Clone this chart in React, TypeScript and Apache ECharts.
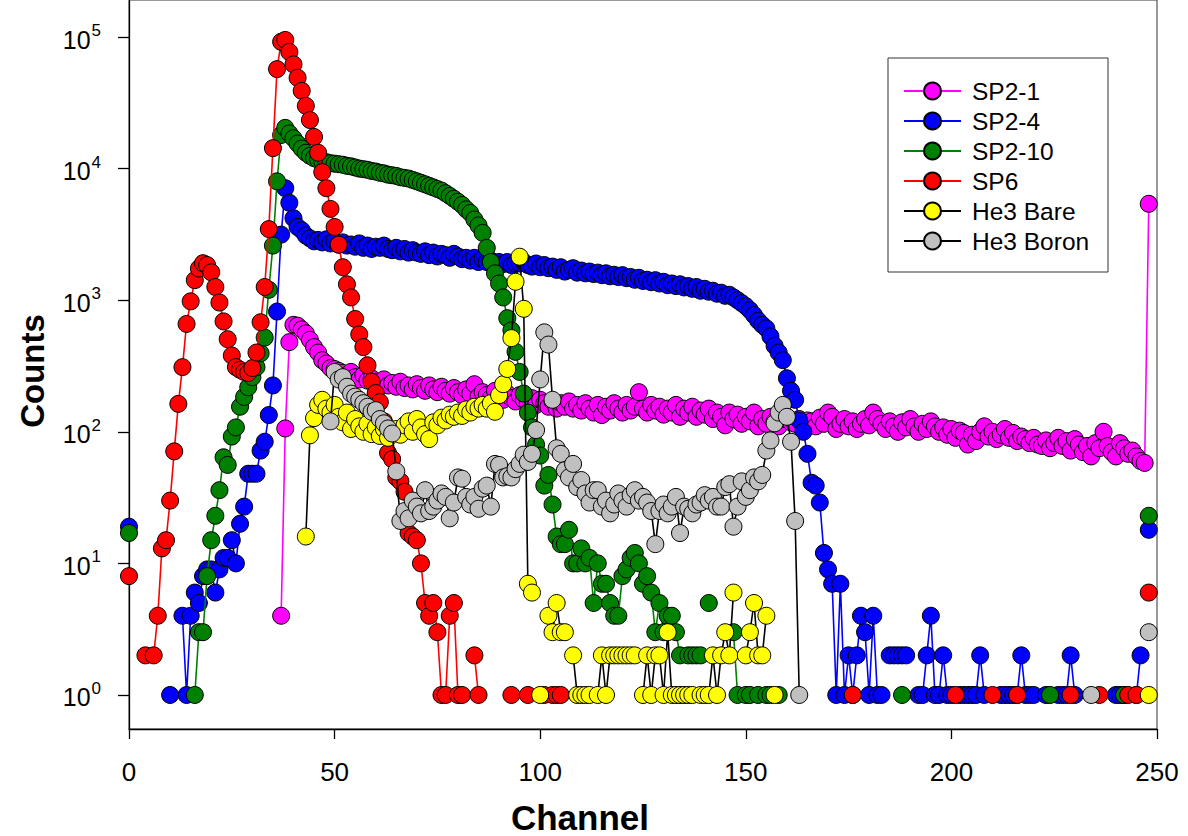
import React, { useEffect, useRef } from 'react';
import * as echarts from 'echarts';

const N = null;

const seriesNames = ['SP2-1', 'SP2-4', 'SP2-10', 'SP6', 'He3 Bare', 'He3 Boron'];
const markerColors = ['#FF00FF', '#0000FF', '#008000', '#FF0000', '#FFFF00', '#C0C0C0'];
const lineColors = ['#FF00FF', '#0000FF', '#008000', '#FF0000', '#000000', '#000000'];

const xTicks = [0, 50, 100, 150, 200, 250];
const yTicks = [1, 10, 100, 1000, 10000, 100000];

// counts per channel (index = channel 0..248); null = no counts
const sp2_1 = [
  N, N, N, N, N, N, N, N, N, N,
  N, N, N, N, N, N, N, N, N, N,
  N, N, N, N, N, N, N, N, N, N,
  N, N, N, N, N, N, N, 4, 106, 480,
  650, 640, 600, 560, 500, 440, 400, 350, 330, 305,
  300, 290, 280, 270, 285, 260, 250, 270, 245, 255,
  240, 230, 250, 225, 235, 220, 240, 215, 225, 210,
  230, 215, 205, 225, 210, 200, 220, 205, 195, 215,
  200, 190, 210, 195, 230, 185, 200, 190, 180, 205,
  185, 175, 195, 180, 170, 190, 175, 165, 180, 160,
  175, 165, 155, 170, 150, 165, 155, 170, 150, 160,
  145, 165, 150, 140, 160, 134, 155, 145, 165, 150,
  140, 160, 145, 155, 200, 150, 140, 160, 145, 155,
  135, 150, 140, 160, 130, 150, 140, 155, 130, 145,
  135, 150, 125, 140, 130, 112, 140, 125, 135, 115,
  130, 120, 140, 110, 125, 115, 130, 120, 110, 125,
  130, 118, 115, 125, 110, 122, 120, 110, 128, 115,
  140, 130, 105, 115, 125, 110, 120, 105, 115, 125,
  112, 140, 125, 115, 105, 120, 110, 100, 118, 108,
  125, 110, 100, 115, 105, 120, 110, 100, 108, 95,
  105, 90, 102, 98, 80, 95, 85, 100, 110, 92,
  100, 88, 95, 105, 90, 98, 85, 92, 88, 82,
  90, 80, 78, 86, 75, 82, 90, 78, 85, 72,
  88, 80, 70, 78, 65, 82, 75, 100, 78, 70,
  65, 82, 75, 68, 72, 65, 60, 58, 5400,
];

const sp2_4 = [
  19, N, N, N, N, N, N, N, N, N,
  1, N, N, 4, 1, 4, 6, 5, 8, 9,
  9, 6, 9, 11, 11, 15, 10, 20, 27, 48,
  48, 48, 72, 84, 134, 225, 820, 3150, 7100, 5500,
  4200, 3600, 3400, 3100, 2950, 2800, 2870, 2750, 2900, 2700,
  2800, 2650, 2750, 2600, 2650, 2550, 2700, 2500, 2600, 2450,
  2550, 2500, 2600, 2450, 2400, 2500, 2350, 2450, 2300, 2400,
  2300, 2250, 2350, 2200, 2300, 2150, 2250, 2200, 2100, 2250,
  2150, 2050, 2100, 2000, 2100, 1950, 2050, 1950, 2000, 1900,
  1950, 1880, 1950, 1850, 1900, 1900, 1950, 1850, 1800, 1900,
  1780, 1850, 1750, 1800, 1700, 1780, 1650, 1700, 1750, 1620,
  1680, 1600, 1650, 1580, 1620, 1550, 1600, 1520, 1560, 1500,
  1550, 1470, 1500, 1430, 1480, 1400, 1430, 1370, 1420, 1340,
  1380, 1300, 1340, 1280, 1320, 1250, 1280, 1220, 1260, 1180,
  1220, 1160, 1180, 1120, 1140, 1080, 1100, 1050, 1000, 950,
  900, 840, 770, 700, 650, 610, 530, 450, 400, 350,
  255, 205, 175, 122, 100, 68, 41, 39, 29, 12,
  9, 7, 1, 7, 1, 2, 1, 2, 4, 3,
  1, 4, 1, 1, N, 2, 2, 2, 2, 2,
  N, N, 1, 1, 2, 4, 1, 1, 2, 1,
  1, N, 1, 1, 1, 1, 1, 2, 1, N,
  N, N, 1, 1, 1, 1, 1, 2, 1, 1,
  1, N, N, 1, N, N, 1, 1, 1, 2,
  1, N, N, N, N, N, N, N, N, N,
  1, 1, 1, N, N, 1, 2, N, 18,
];

const sp2_10 = [
  17, N, N, N, N, N, N, N, N, N,
  N, N, N, N, N, N, 1, 3, 3, 8,
  15, 23, 36, 64, 56, 92, 108, 155, 184, 218,
  260, 310, 395, 520, 1200, 2600, 8000, 18000, 20400, 18500,
  17000, 15500, 14200, 13200, 12500, 12000, 11700, 11400, 11200, 11000,
  10900, 10800, 10700, 10500, 10400, 10200, 10000, 9900, 9800, 9600,
  9500, 9300, 9200, 9000, 8900, 8800, 8600, 8500, 8400, 8200,
  8000, 7800, 7600, 7400, 7200, 7000, 6800, 6500, 6200, 5900,
  5600, 5300, 4900, 4600, 4100, 3700, 3250, 2500, 1950, 1600,
  1340, 1050, 730, 590, 405, 285, 195, 140, 108, 80,
  66, 39, 47, 28, 16, 14, 14, 18, 10, 10,
  13, 10, 11, 5, 10, 7, 7, 5, 4, 4,
  8, 9, 11, 12, 10, 7, 8, 6, 3, 5,
  3, 4, 4, 3, 2, N, 2, 2, 2, 2,
  N, 5, N, N, N, N, N, 3, 1, N,
  1, 1, N, 1, N, 1, 1, N, 1, N,
  N, N, N, N, N, N, N, N, N, N,
  N, N, N, N, N, N, N, N, N, N,
  N, N, N, N, N, N, N, N, 1, N,
  N, N, N, N, N, N, N, N, N, N,
  N, N, N, N, N, N, N, N, N, N,
  N, N, N, N, N, N, N, N, N, N,
  N, N, N, N, 1, N, N, N, N, N,
  N, N, N, N, N, N, N, N, N, N,
  N, N, 1, N, N, N, N, N, 23,
];

const sp6 = [
  8, N, N, N, 2, N, 2, 4, 13, 15,
  30, 71, 163, 310, 660, 980, 1420, 1740, 1910, 1850,
  1630, 1260, 960, 690, 505, 380, 310, 296, 285, 280,
  305, 400, 680, 1260, 3470, 14300, 57000, 92000, 95000, 77000,
  62000, 49000, 39000, 30000, 23400, 17400, 13200, 9400, 7100, 4940,
  3600, 2640, 1780, 1320, 1050, 720, 550, 440, 320, 240,
  197, 168, 120, 69, 62, 45, 42, 35, 17, 16,
  15, 10, 5, 4, 5, 3, 1, 1, 4, 5,
  1, 1, N, N, 2, 1, N, N, N, N,
  N, N, N, 1, N, N, N, 1, N, N,
  N, 1, N, 1, 1, 1, N, N, N, N,
  N, N, N, N, N, N, N, N, N, N,
  N, N, N, N, N, N, N, N, N, N,
  N, N, N, N, N, N, N, N, N, N,
  N, N, N, N, N, N, N, N, N, N,
  N, N, N, N, N, N, N, N, N, N,
  N, N, N, N, N, N, N, N, N, N,
  N, N, N, N, N, N, 1, N, N, N,
  N, N, N, N, N, N, N, N, N, N,
  N, N, N, N, N, N, N, N, N, N,
  N, 1, N, N, N, N, N, N, N, N,
  1, N, N, N, N, N, 1, N, N, N,
  N, N, N, N, N, N, N, N, N, 1,
  N, N, N, N, N, N, 1, N, N, N,
  N, N, N, 1, N, 1, N, N, 6,
];

const he3Bare = [
  N, N, N, N, N, N, N, N, N, N,
  N, N, N, N, N, N, N, N, N, N,
  N, N, N, N, N, N, N, N, N, N,
  N, N, N, N, N, N, N, N, N, N,
  N, N, N, 16, 94, 127, 160, 175, 150, 140,
  160, 130, 118, 140, 105, 125, 110, 100, 115, 96,
  108, 93, 105, 90, 98, 105, 95, 112, 120, 100,
  125, 108, 96, 88, 118, 112, 128, 122, 135, 130,
  140, 132, 148, 140, 155, 150, 160, 150, 165, 142,
  190, 230, 300, 515, 1380, 2140, 860, 7, 6, N,
  1, N, 4, 3, 5, 3, 3, N, 2, 1,
  1, 1, 1, N, 1, 2, 1, 2, 2, 2,
  2, 2, 2, 2, N, 1, 2, 1, 2, 2,
  1, 3, 1, 1, 1, 1, 1, 1, N, 1,
  1, 1, 2, 1, 2, 3, 2, 6, N, N,
  2, 3, 5, 2, 2, 4, N, 1, N, N,
  N, N, N, N, N, N, N, N, N, N,
  N, N, N, N, N, N, N, N, N, N,
  N, N, N, N, N, N, N, N, N, N,
  N, N, N, N, N, N, N, N, N, N,
  N, N, N, N, N, N, N, N, N, N,
  N, N, N, N, N, N, N, N, N, N,
  N, N, N, N, N, N, N, N, N, N,
  N, N, N, N, N, N, N, N, N, N,
  N, N, N, N, N, N, N, N, 1,
];

const he3Boron = [
  N, N, N, N, N, N, N, N, N, N,
  N, N, N, N, N, N, N, N, N, N,
  N, N, N, N, N, N, N, N, N, N,
  N, N, N, N, N, N, N, N, N, N,
  N, N, N, N, N, N, N, N, N, 120,
  285, 250, 260, 220, 195, 185, 175, 165, 155, 142,
  146, 125, 116, 106, 97, 50, 21, 25, 22, 30,
  27, 24, 36, 25, 27, 30, 34, 32, 22, 29,
  45, 44, 32, 28, 32, 26, 37, 39, 27, 57,
  56, 45, 46, 45, 52, 57, 67, 59, 68, 103,
  250, 570, 460, 175, 75, 68, 51, 45, 57, 38,
  43, 34, 29, 36, 36, 27, 30, 24, 28, 34,
  30, 27, 33, 36, 30, 32, 29, 25, 14, 25,
  28, 24, 27, 32, 17, 27, 26, 24, 28, 29,
  33, 30, 32, 27, 27, 38, 40, 19, 27, 42,
  32, 36, 45, 42, 47, 72, 86, 116, 140, 160,
  130, 84, 21, 1, N, N, N, N, N, N,
  N, N, N, N, N, N, N, N, N, N,
  N, N, N, N, N, N, N, N, N, N,
  N, N, N, N, N, N, N, N, N, N,
  N, N, N, N, N, N, N, N, N, N,
  N, N, N, N, N, N, N, N, N, N,
  N, N, N, N, N, N, N, N, N, N,
  N, N, N, N, 1, N, N, N, N, N,
  N, N, N, N, N, N, N, N, 3,
];

const allCounts = [sp2_1, sp2_4, sp2_10, sp6, he3Bare, he3Boron];

const FONT = 'Liberation Sans, Arial, Helvetica, sans-serif';

export default function App() {
  const ref = useRef<HTMLDivElement>(null);

  useEffect(() => {
    document.body.style.margin = '0';
    if (!ref.current) return;
    const chart = echarts.init(ref.current, null, { renderer: 'svg' });

    const series = seriesNames.map((name, k) => ({
      name,
      type: 'line',
      data: allCounts[k].map((v, i) => [i, v]),
      symbol: 'circle',
      symbolSize: 17,
      connectNulls: false,
      itemStyle: { color: markerColors[k], borderColor: '#000', borderWidth: 1 },
      lineStyle: { color: lineColors[k], width: 1.6 },
      emphasis: { disabled: true },
      z: 2 + k,
    }));

    const option = {
      animation: false,
      backgroundColor: '#ffffff',
      grid: {
        left: 129,
        right: 31,
        top: 0,
        bottom: 107,
        show: true,
        borderColor: '#333',
        borderWidth: 1,
        backgroundColor: 'transparent',
      },
      xAxis: {
        type: 'value',
        min: 0,
        max: 250,
        interval: 50,
        axisLine: { onZero: false, lineStyle: { color: '#000', width: 1.3 } },
        axisTick: { length: 10, customValues: xTicks, lineStyle: { color: '#000', width: 1.3 } },
        axisLabel: { fontSize: 26, fontFamily: FONT, color: '#000', margin: 30 },
        splitLine: { show: false },
      },
      yAxis: {
        type: 'log',
        logBase: 10,
        min: 0.5514,
        max: 191100,
        axisLine: { onZero: false, lineStyle: { color: '#000', width: 1.3 } },
        axisTick: { length: 11, customValues: yTicks, lineStyle: { color: '#000', width: 1.3 } },
        axisLabel: {
          customValues: yTicks,
          margin: 28,
          color: '#000',
          formatter: (val: number) => `{b|10}{s|${Math.round(Math.log10(val))}}`,
          rich: {
            b: { fontSize: 25, fontFamily: FONT, color: '#000', lineHeight: 30, verticalAlign: 'bottom' },
            s: { fontSize: 17, fontFamily: FONT, color: '#000', lineHeight: 17, verticalAlign: 'top', padding: [0, 0, 0, 1] },
          },
        },
        splitLine: { show: false },
        minorTick: { show: false },
      },
      legend: {
        orient: 'vertical',
        left: 903,
        top: 78.5,
        padding: 0,
        itemWidth: 57,
        itemHeight: 21,
        itemGap: 5,
        selectedMode: false,
        data: seriesNames,
        textStyle: { fontSize: 24.5, fontFamily: FONT, color: '#000', padding: [0, 0, 0, 6] },
        z: 10,
      },
      graphic: [
        {
          type: 'rect',
          z: 1,
          shape: { x: 888, y: 58, width: 220, height: 214 },
          style: { fill: '#fff', stroke: '#333', lineWidth: 1 },
        },
        {
          type: 'text',
          x: 580,
          y: 817,
          style: { text: 'Channel', fontSize: 35, fontWeight: 'bold', fontFamily: FONT, fill: '#000', align: 'center', verticalAlign: 'middle' },
        },
        {
          type: 'text',
          x: 32,
          y: 371,
          rotation: Math.PI / 2,
          style: { text: 'Counts', fontSize: 33, fontWeight: 'bold', fontFamily: FONT, fill: '#000', align: 'center', verticalAlign: 'middle' },
        },
      ],
      series,
    };

    chart.setOption(option as any);
    return () => chart.dispose();
  }, []);

  return <div ref={ref} style={{ width: 1188, height: 836 }} />;
}
